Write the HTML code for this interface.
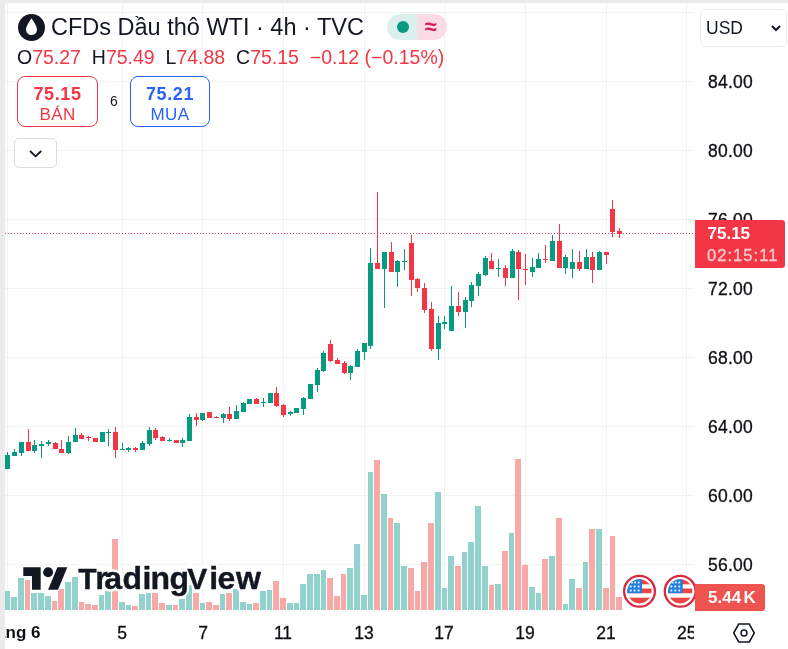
<!DOCTYPE html>
<html lang="vi">
<head>
<meta charset="utf-8">
<title>CFDs Dầu thô WTI</title>
<style>
html,body{margin:0;padding:0;}
body{width:788px;height:649px;overflow:hidden;background:#ebebeb;position:relative;font-family:"Liberation Sans",sans-serif;color:#131722;}
#card{position:absolute;left:5px;top:3px;width:783px;height:646px;background:#fff;border-top-left-radius:4px;}
#chart{position:absolute;left:0;top:0;width:788px;height:649px;}
.abs{position:absolute;white-space:nowrap;}
#title{left:51px;top:13px;font-size:23.5px;line-height:28px;color:#131722;}
#ohlc{left:17px;top:44px;font-size:19.5px;line-height:26px;color:#131722;}
#ohlc b{font-weight:normal;color:#f23645;}
.btn{position:absolute;top:76px;width:79px;height:49px;border:1px solid;border-radius:8px;text-align:center;box-sizing:content-box;background:#fff;}
.btn .p{font-weight:bold;font-size:18px;line-height:20px;margin-top:6.5px;letter-spacing:0.6px;}
.btn .l{font-size:17px;line-height:20px;margin-top:1px;letter-spacing:0.4px;}
#sell{left:17px;color:#f23645;border-color:#f23645;}
#buy{left:130px;width:78px;color:#2962ff;border-color:#2962ff;}
#spread{left:104px;top:92px;width:20px;text-align:center;font-size:14px;line-height:18px;}
#collapse{position:absolute;left:13.7px;top:137.6px;width:41px;height:28px;border:1px solid #dcdcde;border-radius:5px;background:#fff;}
#pill{position:absolute;left:387px;top:14.4px;width:60px;height:26px;border-radius:13px;overflow:hidden;background:linear-gradient(90deg,#dbf0ec 0,#dbf0ec 30px,#fbdce6 30px,#fbdce6 60px);}
#pill .dot{position:absolute;left:10px;top:7px;width:12px;height:12px;border-radius:50%;background:#089981;}
#pill .ap{position:absolute;left:30px;top:0;width:27px;text-align:center;font-size:22px;line-height:25px;color:#d81b60;font-weight:bold;}
#usd{position:absolute;left:700px;top:9px;width:85px;height:36px;border:1px solid #ededed;border-radius:5px;}
#usd span{position:absolute;left:5px;top:7px;font-size:17.5px;line-height:22px;}
.pl{position:absolute;left:708px;font-size:17.5px;line-height:20px;width:60px;letter-spacing:0.25px;color:#0e0f14;-webkit-text-stroke:0.3px #0e0f14;}
.tl{position:absolute;top:623px;font-size:17.5px;line-height:20px;width:40px;text-align:center;color:#0e0f14;-webkit-text-stroke:0.3px #0e0f14;}
#last{position:absolute;left:695px;top:220px;width:89.5px;height:48px;background:#f23645;border-radius:0 3px 3px 0;color:#fff;}
#last div{position:absolute;left:14px;font-size:17px;line-height:20px;}
#vol{position:absolute;left:695px;top:584px;width:70px;height:27px;background:#ef5350;border-radius:0 3px 3px 0;color:#fff;}
#vol div{position:absolute;left:13px;top:4px;font-size:17px;line-height:20px;font-weight:bold;}
#logo{position:absolute;left:78px;top:560px;font-size:30px;line-height:36px;font-weight:bold;color:#131722;letter-spacing:-0.5px;}
</style>
</head>
<body>
<div id="card"></div>
<svg id="chart" width="788" height="649" viewBox="0 0 788 649">
<g shape-rendering="crispEdges">
<line x1="7.5" y1="3" x2="7.5" y2="610" stroke="rgba(42,46,57,0.058)" stroke-width="1"/>
<line x1="122.5" y1="3" x2="122.5" y2="610" stroke="rgba(42,46,57,0.058)" stroke-width="1"/>
<line x1="202.5" y1="3" x2="202.5" y2="610" stroke="rgba(42,46,57,0.058)" stroke-width="1"/>
<line x1="283.5" y1="3" x2="283.5" y2="610" stroke="rgba(42,46,57,0.058)" stroke-width="1"/>
<line x1="364.5" y1="3" x2="364.5" y2="610" stroke="rgba(42,46,57,0.058)" stroke-width="1"/>
<line x1="444.5" y1="3" x2="444.5" y2="610" stroke="rgba(42,46,57,0.058)" stroke-width="1"/>
<line x1="525.5" y1="3" x2="525.5" y2="610" stroke="rgba(42,46,57,0.058)" stroke-width="1"/>
<line x1="606.5" y1="3" x2="606.5" y2="610" stroke="rgba(42,46,57,0.058)" stroke-width="1"/>
<line x1="686.5" y1="3" x2="686.5" y2="610" stroke="rgba(42,46,57,0.058)" stroke-width="1"/>
<line x1="5" y1="12.5" x2="694" y2="12.5" stroke="rgba(42,46,57,0.058)" stroke-width="1"/>
<line x1="5" y1="81.5" x2="694" y2="81.5" stroke="rgba(42,46,57,0.058)" stroke-width="1"/>
<line x1="5" y1="150.5" x2="694" y2="150.5" stroke="rgba(42,46,57,0.058)" stroke-width="1"/>
<line x1="5" y1="219.5" x2="694" y2="219.5" stroke="rgba(42,46,57,0.058)" stroke-width="1"/>
<line x1="5" y1="288.5" x2="694" y2="288.5" stroke="rgba(42,46,57,0.058)" stroke-width="1"/>
<line x1="5" y1="357.5" x2="694" y2="357.5" stroke="rgba(42,46,57,0.058)" stroke-width="1"/>
<line x1="5" y1="426.5" x2="694" y2="426.5" stroke="rgba(42,46,57,0.058)" stroke-width="1"/>
<line x1="5" y1="495.5" x2="694" y2="495.5" stroke="rgba(42,46,57,0.058)" stroke-width="1"/>
<line x1="5" y1="564.5" x2="694" y2="564.5" stroke="rgba(42,46,57,0.058)" stroke-width="1"/>
<rect x="5" y="591" width="5" height="19" fill="#92d2cc"/>
<rect x="11" y="597" width="6" height="13" fill="#92d2cc"/>
<rect x="18" y="578" width="6" height="32" fill="#92d2cc"/>
<rect x="25" y="580" width="5" height="30" fill="#f7a9a7"/>
<rect x="31" y="593" width="6" height="17" fill="#92d2cc"/>
<rect x="38" y="593" width="6" height="17" fill="#92d2cc"/>
<rect x="45" y="596" width="6" height="14" fill="#92d2cc"/>
<rect x="52" y="601" width="5" height="9" fill="#f7a9a7"/>
<rect x="58" y="589" width="6" height="21" fill="#f7a9a7"/>
<rect x="65" y="582" width="6" height="28" fill="#92d2cc"/>
<rect x="72" y="577" width="6" height="33" fill="#92d2cc"/>
<rect x="79" y="602" width="5" height="8" fill="#f7a9a7"/>
<rect x="85" y="604" width="6" height="6" fill="#f7a9a7"/>
<rect x="92" y="605" width="6" height="5" fill="#f7a9a7"/>
<rect x="99" y="595" width="5" height="15" fill="#92d2cc"/>
<rect x="105" y="591" width="6" height="19" fill="#92d2cc"/>
<rect x="112" y="539" width="6" height="71" fill="#f7a9a7"/>
<rect x="119" y="602" width="6" height="8" fill="#92d2cc"/>
<rect x="126" y="605" width="5" height="5" fill="#92d2cc"/>
<rect x="132" y="606" width="6" height="4" fill="#f7a9a7"/>
<rect x="139" y="594" width="6" height="16" fill="#92d2cc"/>
<rect x="146" y="593" width="5" height="17" fill="#92d2cc"/>
<rect x="152" y="593" width="6" height="17" fill="#f7a9a7"/>
<rect x="159" y="603" width="6" height="7" fill="#f7a9a7"/>
<rect x="166" y="605" width="6" height="5" fill="#92d2cc"/>
<rect x="173" y="605" width="5" height="5" fill="#f7a9a7"/>
<rect x="179" y="599" width="6" height="11" fill="#92d2cc"/>
<rect x="186" y="585" width="6" height="25" fill="#92d2cc"/>
<rect x="193" y="593" width="6" height="17" fill="#f7a9a7"/>
<rect x="200" y="603" width="5" height="7" fill="#92d2cc"/>
<rect x="206" y="602" width="6" height="8" fill="#f7a9a7"/>
<rect x="213" y="605" width="6" height="5" fill="#f7a9a7"/>
<rect x="220" y="594" width="5" height="16" fill="#92d2cc"/>
<rect x="226" y="593" width="6" height="17" fill="#f7a9a7"/>
<rect x="233" y="589" width="6" height="21" fill="#92d2cc"/>
<rect x="240" y="602" width="6" height="8" fill="#92d2cc"/>
<rect x="247" y="604" width="5" height="6" fill="#92d2cc"/>
<rect x="253" y="603" width="6" height="7" fill="#f7a9a7"/>
<rect x="260" y="591" width="6" height="19" fill="#92d2cc"/>
<rect x="267" y="590" width="5" height="20" fill="#92d2cc"/>
<rect x="273" y="581" width="6" height="29" fill="#f7a9a7"/>
<rect x="280" y="598" width="6" height="12" fill="#f7a9a7"/>
<rect x="287" y="603" width="6" height="7" fill="#92d2cc"/>
<rect x="294" y="603" width="5" height="7" fill="#92d2cc"/>
<rect x="300" y="584" width="6" height="26" fill="#92d2cc"/>
<rect x="307" y="574" width="6" height="36" fill="#92d2cc"/>
<rect x="314" y="574" width="6" height="36" fill="#92d2cc"/>
<rect x="321" y="570" width="5" height="40" fill="#92d2cc"/>
<rect x="327" y="578" width="6" height="32" fill="#f7a9a7"/>
<rect x="334" y="596" width="6" height="14" fill="#f7a9a7"/>
<rect x="341" y="574" width="5" height="36" fill="#f7a9a7"/>
<rect x="347" y="568" width="6" height="42" fill="#92d2cc"/>
<rect x="354" y="544" width="6" height="66" fill="#92d2cc"/>
<rect x="361" y="595" width="6" height="15" fill="#92d2cc"/>
<rect x="368" y="472" width="5" height="138" fill="#92d2cc"/>
<rect x="374" y="460" width="6" height="150" fill="#f7a9a7"/>
<rect x="381" y="494" width="6" height="116" fill="#92d2cc"/>
<rect x="388" y="518" width="5" height="92" fill="#f7a9a7"/>
<rect x="394" y="523" width="6" height="87" fill="#92d2cc"/>
<rect x="401" y="566" width="6" height="44" fill="#92d2cc"/>
<rect x="408" y="568" width="6" height="42" fill="#f7a9a7"/>
<rect x="415" y="591" width="5" height="19" fill="#f7a9a7"/>
<rect x="421" y="562" width="6" height="48" fill="#f7a9a7"/>
<rect x="428" y="523" width="6" height="87" fill="#f7a9a7"/>
<rect x="435" y="492" width="6" height="118" fill="#92d2cc"/>
<rect x="442" y="588" width="5" height="22" fill="#92d2cc"/>
<rect x="448" y="556" width="6" height="54" fill="#92d2cc"/>
<rect x="455" y="566" width="6" height="44" fill="#f7a9a7"/>
<rect x="462" y="552" width="5" height="58" fill="#92d2cc"/>
<rect x="468" y="542" width="6" height="68" fill="#92d2cc"/>
<rect x="475" y="506" width="6" height="104" fill="#92d2cc"/>
<rect x="482" y="566" width="6" height="44" fill="#92d2cc"/>
<rect x="489" y="585" width="5" height="25" fill="#f7a9a7"/>
<rect x="495" y="584" width="6" height="26" fill="#92d2cc"/>
<rect x="502" y="551" width="6" height="59" fill="#f7a9a7"/>
<rect x="509" y="533" width="5" height="77" fill="#92d2cc"/>
<rect x="515" y="459" width="6" height="151" fill="#f7a9a7"/>
<rect x="522" y="565" width="6" height="45" fill="#f7a9a7"/>
<rect x="529" y="587" width="6" height="23" fill="#92d2cc"/>
<rect x="536" y="593" width="5" height="17" fill="#92d2cc"/>
<rect x="542" y="559" width="6" height="51" fill="#f7a9a7"/>
<rect x="549" y="556" width="6" height="54" fill="#92d2cc"/>
<rect x="556" y="518" width="6" height="92" fill="#f7a9a7"/>
<rect x="563" y="604" width="5" height="6" fill="#92d2cc"/>
<rect x="569" y="579" width="6" height="31" fill="#92d2cc"/>
<rect x="576" y="588" width="6" height="22" fill="#f7a9a7"/>
<rect x="583" y="562" width="5" height="48" fill="#92d2cc"/>
<rect x="589" y="529" width="6" height="81" fill="#f7a9a7"/>
<rect x="596" y="529" width="6" height="81" fill="#92d2cc"/>
<rect x="603" y="588" width="6" height="22" fill="#f7a9a7"/>
<rect x="610" y="536" width="5" height="74" fill="#f7a9a7"/>
<rect x="616" y="597" width="6" height="13" fill="#f7a9a7"/>
</g>
<line x1="5" y1="233.5" x2="694" y2="233.5" stroke="#dc4560" stroke-width="1" stroke-dasharray="1 2" shape-rendering="crispEdges"/>
<g shape-rendering="crispEdges">
<rect x="7" y="452" width="1" height="17" fill="#089981"/>
<rect x="5" y="455" width="5" height="14" fill="#089981"/>
<rect x="14" y="449" width="1" height="7" fill="#089981"/>
<rect x="12" y="452" width="5" height="4" fill="#089981"/>
<rect x="21" y="442" width="1" height="14" fill="#089981"/>
<rect x="19" y="442" width="5" height="11" fill="#089981"/>
<rect x="28" y="429" width="1" height="22" fill="#f23645"/>
<rect x="26" y="442" width="5" height="9" fill="#f23645"/>
<rect x="34" y="440" width="1" height="13" fill="#089981"/>
<rect x="32" y="445" width="5" height="6" fill="#089981"/>
<rect x="41" y="441" width="1" height="17" fill="#089981"/>
<rect x="39" y="444" width="5" height="2" fill="#089981"/>
<rect x="48" y="440" width="1" height="6" fill="#089981"/>
<rect x="46" y="442" width="5" height="2" fill="#089981"/>
<rect x="55" y="442" width="1" height="7" fill="#f23645"/>
<rect x="53" y="443" width="5" height="6" fill="#f23645"/>
<rect x="61" y="440" width="1" height="13" fill="#f23645"/>
<rect x="59" y="449" width="5" height="4" fill="#f23645"/>
<rect x="68" y="436" width="1" height="18" fill="#089981"/>
<rect x="66" y="442" width="5" height="11" fill="#089981"/>
<rect x="75" y="428" width="1" height="14" fill="#089981"/>
<rect x="73" y="435" width="5" height="7" fill="#089981"/>
<rect x="81" y="433" width="1" height="6" fill="#f23645"/>
<rect x="79" y="435" width="5" height="4" fill="#f23645"/>
<rect x="88" y="436" width="1" height="5" fill="#f23645"/>
<rect x="86" y="437" width="5" height="1" fill="#f23645"/>
<rect x="93" y="438" width="5" height="4" fill="#f23645"/>
<rect x="100" y="432" width="5" height="10" fill="#089981"/>
<rect x="108" y="429" width="1" height="17" fill="#089981"/>
<rect x="106" y="432" width="5" height="1" fill="#089981"/>
<rect x="115" y="427" width="1" height="31" fill="#f23645"/>
<rect x="113" y="432" width="5" height="18" fill="#f23645"/>
<rect x="122" y="443" width="1" height="7" fill="#089981"/>
<rect x="120" y="449" width="5" height="1" fill="#089981"/>
<rect x="128" y="447" width="1" height="5" fill="#089981"/>
<rect x="126" y="448" width="5" height="2" fill="#089981"/>
<rect x="135" y="447" width="1" height="5" fill="#f23645"/>
<rect x="133" y="448" width="5" height="2" fill="#f23645"/>
<rect x="142" y="441" width="1" height="9" fill="#089981"/>
<rect x="140" y="443" width="5" height="7" fill="#089981"/>
<rect x="149" y="427" width="1" height="19" fill="#089981"/>
<rect x="147" y="430" width="5" height="14" fill="#089981"/>
<rect x="155" y="428" width="1" height="12" fill="#f23645"/>
<rect x="153" y="430" width="5" height="8" fill="#f23645"/>
<rect x="162" y="436" width="1" height="5" fill="#f23645"/>
<rect x="160" y="437" width="5" height="4" fill="#f23645"/>
<rect x="169" y="438" width="1" height="4" fill="#089981"/>
<rect x="167" y="440" width="5" height="1" fill="#089981"/>
<rect x="174" y="440" width="5" height="3" fill="#f23645"/>
<rect x="182" y="438" width="1" height="9" fill="#089981"/>
<rect x="180" y="440" width="5" height="3" fill="#089981"/>
<rect x="189" y="414" width="1" height="27" fill="#089981"/>
<rect x="187" y="417" width="5" height="24" fill="#089981"/>
<rect x="196" y="413" width="1" height="13" fill="#f23645"/>
<rect x="194" y="417" width="5" height="3" fill="#f23645"/>
<rect x="202" y="413" width="1" height="8" fill="#089981"/>
<rect x="200" y="413" width="5" height="7" fill="#089981"/>
<rect x="207" y="412" width="5" height="6" fill="#f23645"/>
<rect x="216" y="416" width="1" height="2" fill="#f23645"/>
<rect x="214" y="417" width="5" height="1" fill="#f23645"/>
<rect x="223" y="413" width="1" height="10" fill="#089981"/>
<rect x="221" y="414" width="5" height="4" fill="#089981"/>
<rect x="229" y="407" width="1" height="14" fill="#f23645"/>
<rect x="227" y="414" width="5" height="5" fill="#f23645"/>
<rect x="236" y="405" width="1" height="14" fill="#089981"/>
<rect x="234" y="411" width="5" height="8" fill="#089981"/>
<rect x="243" y="402" width="1" height="10" fill="#089981"/>
<rect x="241" y="403" width="5" height="9" fill="#089981"/>
<rect x="247" y="399" width="5" height="5" fill="#089981"/>
<rect x="256" y="398" width="1" height="6" fill="#f23645"/>
<rect x="254" y="399" width="5" height="5" fill="#f23645"/>
<rect x="263" y="398" width="1" height="9" fill="#089981"/>
<rect x="261" y="402" width="5" height="1" fill="#089981"/>
<rect x="268" y="393" width="5" height="10" fill="#089981"/>
<rect x="276" y="387" width="1" height="20" fill="#f23645"/>
<rect x="274" y="393" width="5" height="13" fill="#f23645"/>
<rect x="283" y="404" width="1" height="13" fill="#f23645"/>
<rect x="281" y="405" width="5" height="10" fill="#f23645"/>
<rect x="290" y="411" width="1" height="5" fill="#089981"/>
<rect x="288" y="412" width="5" height="2" fill="#089981"/>
<rect x="294" y="408" width="5" height="5" fill="#089981"/>
<rect x="303" y="397" width="1" height="18" fill="#089981"/>
<rect x="301" y="398" width="5" height="11" fill="#089981"/>
<rect x="308" y="384" width="5" height="15" fill="#089981"/>
<rect x="317" y="368" width="1" height="24" fill="#089981"/>
<rect x="315" y="370" width="5" height="15" fill="#089981"/>
<rect x="323" y="351" width="1" height="21" fill="#089981"/>
<rect x="321" y="353" width="5" height="18" fill="#089981"/>
<rect x="330" y="340" width="1" height="22" fill="#f23645"/>
<rect x="328" y="344" width="5" height="17" fill="#f23645"/>
<rect x="337" y="358" width="1" height="6" fill="#f23645"/>
<rect x="335" y="360" width="5" height="4" fill="#f23645"/>
<rect x="344" y="361" width="1" height="13" fill="#f23645"/>
<rect x="342" y="363" width="5" height="10" fill="#f23645"/>
<rect x="350" y="365" width="1" height="15" fill="#089981"/>
<rect x="348" y="366" width="5" height="7" fill="#089981"/>
<rect x="357" y="349" width="1" height="18" fill="#089981"/>
<rect x="355" y="351" width="5" height="16" fill="#089981"/>
<rect x="364" y="343" width="1" height="17" fill="#089981"/>
<rect x="362" y="343" width="5" height="9" fill="#089981"/>
<rect x="370" y="248" width="1" height="101" fill="#089981"/>
<rect x="368" y="263" width="5" height="83" fill="#089981"/>
<rect x="377" y="192" width="1" height="77" fill="#f23645"/>
<rect x="375" y="263" width="5" height="6" fill="#f23645"/>
<rect x="384" y="252" width="1" height="56" fill="#089981"/>
<rect x="382" y="252" width="5" height="17" fill="#089981"/>
<rect x="391" y="242" width="1" height="30" fill="#f23645"/>
<rect x="389" y="252" width="5" height="20" fill="#f23645"/>
<rect x="397" y="260" width="1" height="27" fill="#089981"/>
<rect x="395" y="261" width="5" height="11" fill="#089981"/>
<rect x="404" y="249" width="1" height="21" fill="#089981"/>
<rect x="402" y="261" width="5" height="1" fill="#089981"/>
<rect x="411" y="235" width="1" height="61" fill="#f23645"/>
<rect x="409" y="243" width="5" height="37" fill="#f23645"/>
<rect x="417" y="278" width="1" height="14" fill="#f23645"/>
<rect x="415" y="279" width="5" height="9" fill="#f23645"/>
<rect x="424" y="283" width="1" height="30" fill="#f23645"/>
<rect x="422" y="288" width="5" height="22" fill="#f23645"/>
<rect x="431" y="302" width="1" height="49" fill="#f23645"/>
<rect x="429" y="309" width="5" height="40" fill="#f23645"/>
<rect x="438" y="316" width="1" height="44" fill="#089981"/>
<rect x="436" y="323" width="5" height="26" fill="#089981"/>
<rect x="444" y="316" width="1" height="13" fill="#089981"/>
<rect x="442" y="322" width="5" height="2" fill="#089981"/>
<rect x="451" y="286" width="1" height="45" fill="#089981"/>
<rect x="449" y="306" width="5" height="25" fill="#089981"/>
<rect x="458" y="292" width="1" height="24" fill="#f23645"/>
<rect x="456" y="306" width="5" height="6" fill="#f23645"/>
<rect x="465" y="297" width="1" height="31" fill="#089981"/>
<rect x="463" y="300" width="5" height="12" fill="#089981"/>
<rect x="471" y="282" width="1" height="25" fill="#089981"/>
<rect x="469" y="285" width="5" height="16" fill="#089981"/>
<rect x="478" y="272" width="1" height="24" fill="#089981"/>
<rect x="476" y="274" width="5" height="12" fill="#089981"/>
<rect x="485" y="256" width="1" height="20" fill="#089981"/>
<rect x="483" y="258" width="5" height="17" fill="#089981"/>
<rect x="491" y="253" width="1" height="16" fill="#f23645"/>
<rect x="489" y="261" width="5" height="8" fill="#f23645"/>
<rect x="498" y="259" width="1" height="18" fill="#089981"/>
<rect x="496" y="268" width="5" height="1" fill="#089981"/>
<rect x="505" y="265" width="1" height="21" fill="#f23645"/>
<rect x="503" y="268" width="5" height="10" fill="#f23645"/>
<rect x="512" y="249" width="1" height="29" fill="#089981"/>
<rect x="510" y="251" width="5" height="27" fill="#089981"/>
<rect x="518" y="250" width="1" height="50" fill="#f23645"/>
<rect x="516" y="252" width="5" height="17" fill="#f23645"/>
<rect x="525" y="254" width="1" height="31" fill="#f23645"/>
<rect x="523" y="269" width="5" height="1" fill="#f23645"/>
<rect x="532" y="258" width="1" height="19" fill="#089981"/>
<rect x="530" y="267" width="5" height="5" fill="#089981"/>
<rect x="538" y="253" width="1" height="15" fill="#089981"/>
<rect x="536" y="259" width="5" height="9" fill="#089981"/>
<rect x="545" y="245" width="1" height="18" fill="#f23645"/>
<rect x="543" y="259" width="5" height="1" fill="#f23645"/>
<rect x="552" y="235" width="1" height="26" fill="#089981"/>
<rect x="550" y="241" width="5" height="20" fill="#089981"/>
<rect x="559" y="224" width="1" height="44" fill="#f23645"/>
<rect x="557" y="241" width="5" height="27" fill="#f23645"/>
<rect x="565" y="255" width="1" height="19" fill="#089981"/>
<rect x="563" y="257" width="5" height="11" fill="#089981"/>
<rect x="572" y="249" width="1" height="29" fill="#089981"/>
<rect x="570" y="262" width="5" height="7" fill="#089981"/>
<rect x="579" y="251" width="1" height="20" fill="#f23645"/>
<rect x="577" y="262" width="5" height="7" fill="#f23645"/>
<rect x="586" y="249" width="1" height="20" fill="#089981"/>
<rect x="584" y="257" width="5" height="12" fill="#089981"/>
<rect x="592" y="252" width="1" height="31" fill="#f23645"/>
<rect x="590" y="257" width="5" height="13" fill="#f23645"/>
<rect x="599" y="251" width="1" height="19" fill="#089981"/>
<rect x="597" y="252" width="5" height="18" fill="#089981"/>
<rect x="606" y="252" width="1" height="12" fill="#f23645"/>
<rect x="604" y="252" width="5" height="3" fill="#f23645"/>
<rect x="612" y="200" width="1" height="37" fill="#f23645"/>
<rect x="610" y="209" width="5" height="23" fill="#f23645"/>
<rect x="619" y="228" width="1" height="10" fill="#f23645"/>
<rect x="617" y="231" width="5" height="3" fill="#f23645"/>
</g>
<defs><clipPath id="fc1"><circle cx="639.5" cy="591.3" r="12.1"/></clipPath><clipPath id="fc2"><circle cx="680.2" cy="591.3" r="12.1"/></clipPath><clipPath id="pane"><rect x="5" y="3" width="690" height="607.500"/></clipPath></defs>
<g clip-path="url(#pane)">
<g id="flagA">
<circle cx="639.5" cy="591.3" r="15.400" fill="#fff" stroke="#d8293f" stroke-width="2.300"/>
<g clip-path="url(#fc1)">
<rect x="626" y="578" width="28" height="27" fill="#fff"/>
<rect x="626" y="578" width="28" height="6.300" fill="#ea4542"/>
<rect x="626" y="588.5" width="28" height="4.700" fill="#ea4542"/>
<rect x="626" y="597.7" width="28" height="8" fill="#ea4542"/>
<rect x="626" y="578" width="16" height="15.200" fill="#1e7fe3"/>
<g fill="#fff"><rect x="629.800" y="585.600" width="1.800" height="1.800"/><rect x="633.700" y="585.600" width="1.800" height="1.800"/><rect x="637.700" y="585.600" width="1.800" height="1.800"/><rect x="631" y="581.600" width="1.800" height="1.800"/><rect x="634.200" y="581.600" width="1.800" height="1.800"/><rect x="637.700" y="581.600" width="1.800" height="1.800"/><rect x="629.800" y="589.600" width="1.800" height="1.800"/><rect x="633.700" y="589.600" width="1.800" height="1.800"/><rect x="637.700" y="589.600" width="1.800" height="1.800"/></g>
</g>
</g>
<g id="flagB" transform="translate(40.7 0)">
<circle cx="639.5" cy="591.3" r="15.400" fill="#fff" stroke="#d8293f" stroke-width="2.300"/>
<g clip-path="url(#fc1)">
<rect x="626" y="578" width="28" height="27" fill="#fff"/>
<rect x="626" y="578" width="28" height="6.300" fill="#ea4542"/>
<rect x="626" y="588.5" width="28" height="4.700" fill="#ea4542"/>
<rect x="626" y="597.7" width="28" height="8" fill="#ea4542"/>
<rect x="626" y="578" width="16" height="15.200" fill="#1e7fe3"/>
<g fill="#fff"><rect x="629.800" y="585.600" width="1.800" height="1.800"/><rect x="633.700" y="585.600" width="1.800" height="1.800"/><rect x="637.700" y="585.600" width="1.800" height="1.800"/><rect x="631" y="581.600" width="1.800" height="1.800"/><rect x="634.200" y="581.600" width="1.800" height="1.800"/><rect x="637.700" y="581.600" width="1.800" height="1.800"/><rect x="629.800" y="589.600" width="1.800" height="1.800"/><rect x="633.700" y="589.600" width="1.800" height="1.800"/><rect x="637.700" y="589.600" width="1.800" height="1.800"/></g>
</g>
</g>
</g>
<g transform="translate(23.300 562.400) scale(1.240)" fill="#131722" stroke="#fff" stroke-width="1.800" paint-order="stroke" stroke-linejoin="round"><path d="M14 22H7V11H0V4h14v18z"/><path d="M28 22h-8l7.500-18h8L28 22z"/><circle cx="20" cy="8" r="4"/></g>
<text x="78.2 95.3 104.3 122.6 142.4 150.6 169.4 187.2 209.3 217.6 236" y="589.3" font-family="'Liberation Sans',sans-serif" font-weight="bold" font-size="31" fill="#fff" stroke="#fff" stroke-width="5.500" stroke-linejoin="round">TradingView</text>
<text x="78.2 95.3 104.3 122.6 142.4 150.6 169.4 187.2 209.3 217.6 236" y="589.3" font-family="'Liberation Sans',sans-serif" font-weight="bold" font-size="30" fill="#131722" stroke="#131722" stroke-width="0.400" stroke-linejoin="round">T<tspan font-size="32">rading</tspan>V<tspan font-size="32">iew</tspan></text>
</svg>

<!-- symbol icon -->
<svg class="abs" style="left:18px;top:14px" width="27" height="27" viewBox="0 0 28 28"><circle cx="14" cy="14" r="14" fill="#131722"/><path d="M14 4.300C16 7.600 19.700 12 19.700 16.100a5.700 5.700 0 0 1-11.400 0C8.300 12 12 7.600 14 4.300z" fill="#fff"/></svg>
<div id="title" class="abs">CFDs Dầu thô WTI · 4h · TVC</div>
<div id="pill"><div class="dot"></div><div class="ap">≈</div></div>
<div id="ohlc" class="abs">O<b>75.27</b>&nbsp; H<b>75.49</b>&nbsp; L<b>74.88</b>&nbsp; C<b>75.15</b>&nbsp; <b>−0.12 (−0.15%)</b></div>

<div id="sell" class="btn"><div class="p">75.15</div><div class="l">BÁN</div></div>
<div id="spread" class="abs">6</div>
<div id="buy" class="btn"><div class="p">75.21</div><div class="l">MUA</div></div>
<div id="collapse"><svg width="41" height="28" viewBox="0 0 41 28"><path d="M15 12l5.600 5.300 5.600-5.300" fill="none" stroke="#131722" stroke-width="1.800"/></svg></div>

<div id="usd"><span>USD</span><svg style="position:absolute;left:68px;top:12px" width="14" height="12" viewBox="0 0 14 12"><path d="M3 4l4 4 4-4" fill="none" stroke="#131722" stroke-width="2"/></svg></div>

<div class="pl" style="top:71.7px">84.00</div>
<div class="pl" style="top:140.7px">80.00</div>
<div class="pl" style="top:209.7px">76.00</div>
<div class="pl" style="top:278.7px">72.00</div>
<div class="pl" style="top:347.7px">68.00</div>
<div class="pl" style="top:416.7px">64.00</div>
<div class="pl" style="top:485.7px">60.00</div>
<div class="pl" style="top:554.7px">56.00</div>

<div id="last"><div style="top:4px;left:12.5px;font-weight:bold">75.15</div><div style="top:25px;left:12px;color:#fcc8cc;letter-spacing:1.05px;font-size:16.5px;-webkit-text-stroke:0.35px #fcc8cc">02:15:11</div></div>
<div id="vol"><div>5.44<span style="margin-left:2.5px">K</span></div></div>

<div class="tl" style="left:5px;width:35.5px;font-weight:bold;font-size:17px;overflow:hidden;display:flex;justify-content:flex-end;white-space:nowrap;-webkit-text-stroke:0">Tháng 6</div>
<div class="tl" style="left:102px">5</div>
<div class="tl" style="left:183px">7</div>
<div class="tl" style="left:263px">11</div>
<div class="tl" style="left:344px">13</div>
<div class="tl" style="left:424px">17</div>
<div class="tl" style="left:505px">19</div>
<div class="tl" style="left:586px">21</div>
<div class="tl" style="left:666px;width:28px;overflow:hidden;text-align:left;text-indent:11px">25</div>

<svg class="abs" style="left:732.2px;top:620.6px" width="24" height="24" viewBox="0 0 24 24"><path d="M1.700 12L6.700 3.050h10.600L22.300 12l-5 8.950H6.700z" fill="none" stroke="#131722" stroke-width="1.550" stroke-linejoin="miter"/><circle cx="12" cy="12" r="2.950" fill="none" stroke="#131722" stroke-width="1.500"/></svg>
</body>
</html>
